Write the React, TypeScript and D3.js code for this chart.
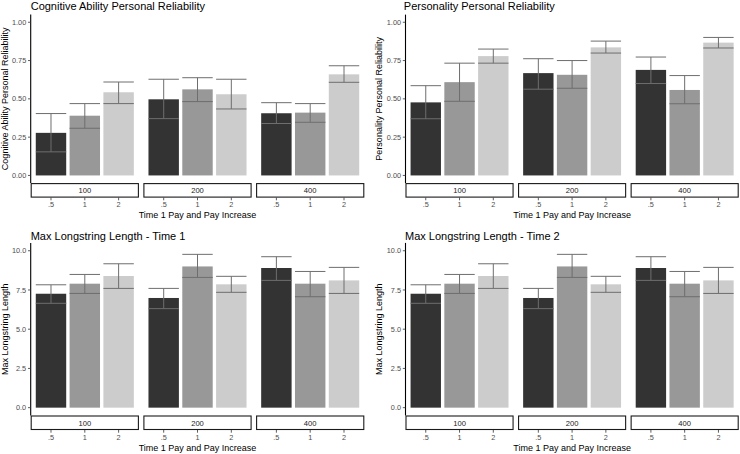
import React from "react";
import * as d3 from "d3";

const groups = ["100", "200", "400"];
const levels = [".5", "1", "2"];
const fills = ["#333333", "#989898", "#cccccc"];

// values in group-major order: 100(.5,1,2), 200(.5,1,2), 400(.5,1,2)
const cogMean = [0.278, 0.39, 0.543, 0.497, 0.562, 0.53, 0.406, 0.41, 0.66];
const cogLo = [0.154, 0.308, 0.469, 0.371, 0.482, 0.434, 0.339, 0.347, 0.608];
const cogHi = [0.404, 0.469, 0.61, 0.628, 0.638, 0.628, 0.475, 0.469, 0.716];

const perMean = [0.477, 0.609, 0.779, 0.668, 0.657, 0.836, 0.689, 0.558, 0.867];
const perLo = [0.37, 0.484, 0.733, 0.563, 0.569, 0.799, 0.6, 0.468, 0.832];
const perHi = [0.586, 0.733, 0.825, 0.762, 0.75, 0.877, 0.773, 0.652, 0.901];

const ls1Mean = [7.26, 7.9, 8.39, 6.99, 9.0, 7.86, 8.9, 7.9, 8.11];
const ls1Lo = [6.65, 7.28, 7.6, 6.31, 8.3, 7.35, 8.11, 7.07, 7.28];
const ls1Hi = [7.83, 8.49, 9.17, 7.6, 9.77, 8.37, 9.62, 8.68, 8.94];

const ls2Mean = [7.26, 7.9, 8.39, 6.99, 9.0, 7.86, 8.9, 7.9, 8.11];
const ls2Lo = [6.65, 7.28, 7.6, 6.31, 8.3, 7.35, 8.11, 7.07, 7.28];
const ls2Hi = [7.83, 8.49, 9.17, 7.6, 9.77, 8.37, 9.62, 8.68, 8.94];

const relTicks = [0, 0.25, 0.5, 0.75, 1.0];
const lsTicks = [0, 2.5, 5, 7.5, 10];

const FONT = "'Liberation Sans', Arial, Helvetica, sans-serif";

type PanelProps = {
  title: string;
  yTitle: string;
  mean: number[];
  lo: number[];
  hi: number[];
  ticks: number[];
  fmt: string;
  yMax: number;
  left: number;
  right: number;
  top: number;
  bottom: number;
  titleX: number;
  titleY: number;
  yTitleX: number;
};

function Panel(p: PanelProps) {
  const expand = p.yMax * 0.05;
  const y = d3.scaleLinear().domain([-expand, p.yMax + expand]).range([p.bottom, p.top]);
  const gap = 4.5;
  const fw = (p.right - p.left - 2 * gap) / 3;
  const stripH = 14.5;
  const stripBottom = p.bottom + stripH;
  const format = d3.format(p.fmt);
  const errColor = "#6e6e6e";
  return (
    <g>
      <text x={p.titleX} y={p.titleY} fontSize={11} fontFamily={FONT} fill="#000">
        {p.title}
      </text>
      <text
        transform={`translate(${p.yTitleX},${(p.top + p.bottom) / 2}) rotate(-90)`}
        textAnchor="middle"
        fontSize={9}
        fontFamily={FONT}
        fill="#000"
      >
        {p.yTitle}
      </text>
      {groups.map((g, gi) => {
        const fx0 = p.left + gi * (fw + gap);
        const x = d3.scaleBand<string>().domain(levels).range([fx0, fx0 + fw]).paddingInner(0.1).paddingOuter(0.15);
        return (
          <g key={g}>
            {levels.map((lv, li) => {
              const idx = gi * 3 + li;
              const bx = x(lv) as number;
              const bw = x.bandwidth();
              const cx = bx + bw / 2;
              return (
                <g key={lv}>
                  <rect x={bx} y={y(p.mean[idx])} width={bw} height={y(0) - y(p.mean[idx])} fill={fills[li]} />
                  <line x1={cx} x2={cx} y1={y(p.lo[idx])} y2={y(p.hi[idx])} stroke={errColor} strokeWidth={1} />
                  <line x1={bx} x2={bx + bw} y1={y(p.hi[idx])} y2={y(p.hi[idx])} stroke={errColor} strokeWidth={1} />
                  <line x1={bx} x2={bx + bw} y1={y(p.lo[idx])} y2={y(p.lo[idx])} stroke={errColor} strokeWidth={1} />
                  <line x1={cx} x2={cx} y1={stripBottom} y2={stripBottom + 2.7} stroke="#333" strokeWidth={0.8} />
                  <text x={cx} y={stripBottom + 9.8} textAnchor="middle" fontSize={7.3} fontFamily={FONT} fill="#4d4d4d">
                    {lv}
                  </text>
                </g>
              );
            })}
            <rect x={fx0 + 0.5} y={p.bottom + 0.5} width={fw - 1} height={stripH - 1} fill="#fff" stroke="#1a1a1a" strokeWidth={1.1} />
            <text x={fx0 + fw / 2} y={p.bottom + 10} textAnchor="middle" fontSize={7.6} fontFamily={FONT} fill="#1a1a1a">
              {g}
            </text>
          </g>
        );
      })}
      <line x1={p.left} x2={p.left} y1={p.top} y2={p.bottom} stroke="#000" strokeWidth={1.1} />
      {p.ticks.map((t) => (
        <g key={t}>
          <line x1={p.left - 2.7} x2={p.left} y1={y(t)} y2={y(t)} stroke="#333" strokeWidth={0.8} />
          <text x={p.left - 4.5} y={y(t) + 2.6} textAnchor="end" fontSize={7.3} fontFamily={FONT} fill="#4d4d4d">
            {format(t)}
          </text>
        </g>
      ))}
      <text
        x={(p.left + p.right) / 2}
        y={stripBottom + 20.6}
        textAnchor="middle"
        fontSize={9}
        fontFamily={FONT}
        fill="#000"
      >
        Time 1 Pay and Pay Increase
      </text>
    </g>
  );
}

export default function App() {
  return (
    <svg width={740} height={454} style={{ position: "absolute", left: 0, top: 0, background: "#fff" }}>
      <rect x={0} y={0} width={740} height={454} fill="#fff" />
      <Panel
        title="Cognitive Ability Personal Reliability"
        yTitle="Cognitive Ability Personal Reliability"
        mean={cogMean}
        lo={cogLo}
        hi={cogHi}
        ticks={relTicks}
        fmt=".2f"
        yMax={1}
        left={30.7}
        right={364.3}
        top={14.6}
        bottom={183.1}
        titleX={30.7}
        titleY={9.6}
        yTitleX={7.5}
      />
      <Panel
        title="Personality Personal Reliability"
        yTitle="Personality Personal Reliability"
        mean={perMean}
        lo={perLo}
        hi={perHi}
        ticks={relTicks}
        fmt=".2f"
        yMax={1}
        left={405.5}
        right={738.7}
        top={14.6}
        bottom={183.1}
        titleX={403.8}
        titleY={9.6}
        yTitleX={381.5}
      />
      <Panel
        title="Max Longstring Length - Time 1"
        yTitle="Max Longstring Length"
        mean={ls1Mean}
        lo={ls1Lo}
        hi={ls1Hi}
        ticks={lsTicks}
        fmt=".1f"
        yMax={10}
        left={30.7}
        right={364.3}
        top={242.9}
        bottom={415.5}
        titleX={30.7}
        titleY={239.7}
        yTitleX={8}
      />
      <Panel
        title="Max Longstring Length - Time 2"
        yTitle="Max Longstring Length"
        mean={ls2Mean}
        lo={ls2Lo}
        hi={ls2Hi}
        ticks={lsTicks}
        fmt=".1f"
        yMax={10}
        left={405.5}
        right={738.7}
        top={242.9}
        bottom={415.5}
        titleX={405}
        titleY={239.7}
        yTitleX={381.5}
      />
    </svg>
  );
}
